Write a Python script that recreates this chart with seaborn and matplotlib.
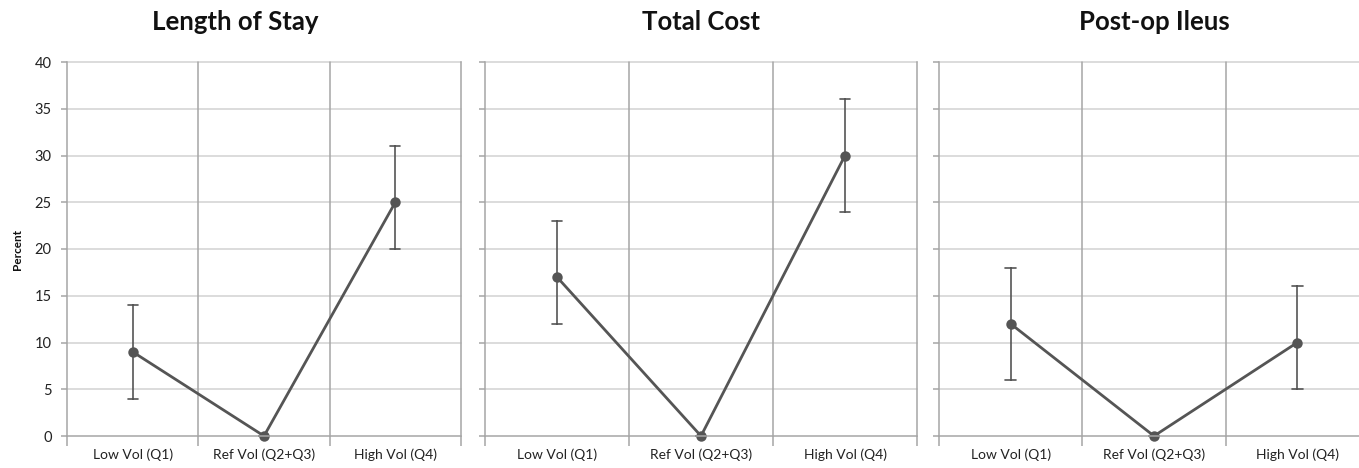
import matplotlib
matplotlib.use("Agg")
import matplotlib.pyplot as plt
import seaborn as sns
import pandas as pd
import numpy as np

categories = ["Low Vol (Q1)", "Ref Vol (Q2+Q3)", "High Vol (Q4)"]
titles = ["Length of Stay", "Total Cost", "Post-op Ileus"]

los_est = [9, 0, 25]
los_lo = [4, 0, 20]
los_hi = [14, 0, 31]

cost_est = [17, 0, 30]
cost_lo = [12, 0, 24]
cost_hi = [23, 0, 36]

ileus_est = [12, 0, 10]
ileus_lo = [6, 0, 5]
ileus_hi = [18, 0, 16]

yticks = [0, 5, 10, 15, 20, 25, 30, 35, 40]

sns.set_theme(style="white")
plt.rcParams["font.family"] = ["Lato", "DejaVu Sans"]

W, H = 1359, 468
fig = plt.figure(figsize=(W / 100, H / 100), dpi=100)

boxes = [(67, 461), (485, 917), (939, 1369)]
top_px, bot_px = 62, 436
title_x = [235, 701, 1154]

series = [(los_est, los_lo, los_hi), (cost_est, cost_lo, cost_hi), (ileus_est, ileus_lo, ileus_hi)]

grid_c = "#d9d9d9"
edge_c = "#a6a6a6"
line_c = "#555555"

for i, ((l, r), (est, lo, hi)) in enumerate(zip(boxes, series)):
    ax = fig.add_axes([l / W, 1 - bot_px / H, (r - l) / W, (bot_px - top_px) / H])
    rows = []
    for c, e, a, b in zip(categories, est, lo, hi):
        rows += [(c, a), (c, e), (c, b)]
    df = pd.DataFrame(rows, columns=["cat", "val"])
    for y in yticks[1:]:
        ax.axhline(y, color=grid_c, lw=1.3, zorder=0)
    for xv in [0.5, 1.5]:
        ax.axvline(xv, color=edge_c, lw=1.1, zorder=0)
    sns.pointplot(data=df, x="cat", y="val", order=categories,
                  estimator="median", errorbar=lambda v: (np.min(v), np.max(v)),
                  color=line_c, capsize=0.075, linewidth=2.0, markersize=6,
                  err_kws={"linewidth": 1.2, "color": line_c}, ax=ax)
    for art in ax.lines + ax.collections:
        art.set_clip_on(False)
    ax.set_xlim(-0.5, 2.5)
    ax.set_ylim(0, 40)
    ax.set_xlabel("")
    ax.set_ylabel("")
    ax.set_yticks(yticks)
    ax.set_xticks([-0.5, 0.5, 1.5, 2.5])
    ax.set_xticklabels([])
    ax.set_xticks([0, 1, 2], minor=True)
    ax.set_xticklabels(categories, minor=True, fontsize=10, color="#222222")
    ax.tick_params(axis="x", which="major", length=7, width=1.1, color=edge_c, direction="out", bottom=True)
    ax.tick_params(axis="x", which="minor", length=0, pad=9, bottom=True)
    ax.tick_params(axis="y", length=4, width=1.1, color=edge_c, direction="out", left=True, pad=7,
                   labelsize=10.5, labelcolor="#222222")
    if i > 0:
        ax.set_yticklabels([])
    for s in ["left", "right", "bottom"]:
        ax.spines[s].set_visible(True)
        ax.spines[s].set_color(edge_c)
        ax.spines[s].set_linewidth(1.1)
    ax.spines["top"].set_visible(False)
    ax.grid(False)
    fig.text(title_x[i] / W, 1 - 22 / H, titles[i], ha="center", va="center",
             fontsize=18.5, fontweight="bold", color="#111111")

fig.text(18 / W, 1 - 250 / H, "Percent", rotation=90, ha="center", va="center",
         fontsize=8.5, fontweight="bold", color="#111111")

fig.savefig("out.png", dpi=100)
